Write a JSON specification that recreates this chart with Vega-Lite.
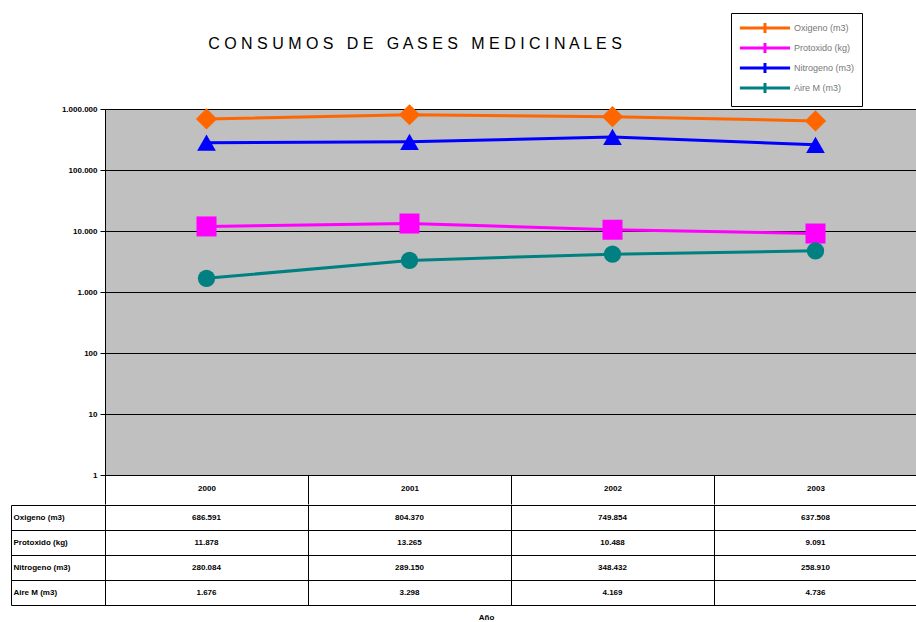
{
  "$schema": "https://vega.github.io/schema/vega-lite/v6.json",
  "padding": {"left": 10, "top": 12, "right": 0, "bottom": 0},
  "spacing": -6,
  "config": {
    "locale": {"number": {"decimal": ",", "thousands": ".", "grouping": [3], "currency": ["", " €"]}},
    "font": "Liberation Sans",
    "view": {"stroke": "black", "strokeWidth": 1}
  },
  "resolve": {"scale": {"x": "independent", "y": "independent", "color": "independent"}},
  "datasets": {
    "series": [
      {"year": "2000", "serie": "Oxigeno (m3)", "value": 686591},
      {"year": "2001", "serie": "Oxigeno (m3)", "value": 804370},
      {"year": "2002", "serie": "Oxigeno (m3)", "value": 749854},
      {"year": "2003", "serie": "Oxigeno (m3)", "value": 637508},
      {"year": "2000", "serie": "Protoxido (kg)", "value": 11878},
      {"year": "2001", "serie": "Protoxido (kg)", "value": 13265},
      {"year": "2002", "serie": "Protoxido (kg)", "value": 10488},
      {"year": "2003", "serie": "Protoxido (kg)", "value": 9091},
      {"year": "2000", "serie": "Nitrogeno (m3)", "value": 280084},
      {"year": "2001", "serie": "Nitrogeno (m3)", "value": 289150},
      {"year": "2002", "serie": "Nitrogeno (m3)", "value": 348432},
      {"year": "2003", "serie": "Nitrogeno (m3)", "value": 258910},
      {"year": "2000", "serie": "Aire M (m3)", "value": 1676},
      {"year": "2001", "serie": "Aire M (m3)", "value": 3298},
      {"year": "2002", "serie": "Aire M (m3)", "value": 4169},
      {"year": "2003", "serie": "Aire M (m3)", "value": 4736}
    ]
  },
  "vconcat": [
    {
      "width": 812,
      "height": 366,
      "view": {"fill": "#c0c0c0", "stroke": "black"},
      "title": {
        "text": "C O N S U M O S\u00a0\u00a0\u00a0D E\u00a0\u00a0\u00a0G A S E S\u00a0\u00a0\u00a0M E D I C I N A L E S",
        "frame": "group",
        "anchor": "middle",
        "dx": -96,
        "offset": -39,
        "fontSize": 16,
        "fontWeight": "normal",
        "font": "Liberation Sans",
        "color": "black"
      },
      "data": {"name": "series"},
      "encoding": {
        "x": {
          "field": "year", "type": "ordinal", "bandPosition": 0.5,
          "scale": {"type": "band", "paddingInner": 0, "paddingOuter": 0},
          "axis": {
            "title": null, "orient": "bottom", "tickBand": "extent", "tickSize": 29,
            "tickColor": "black", "domainColor": "black", "labelAngle": 0,
            "labelPadding": -16, "labelBaseline": "middle", "labelFontSize": 8,
            "labelFontWeight": "bold", "labelColor": "black", "grid": false,
            "minExtent": 29, "maxExtent": 29
          }
        },
        "y": {
          "field": "value", "type": "quantitative",
          "scale": {"type": "log", "domain": [1, 1000000], "nice": false},
          "axis": {
            "title": null, "values": [1, 10, 100, 1000, 10000, 100000, 1000000],
            "format": ",", "grid": true, "gridColor": "black", "gridOpacity": 1,
            "domainColor": "black", "tickColor": "black", "tickSize": 5,
            "labelFontSize": 8, "labelFontWeight": "bold", "labelColor": "black",
            "labelPadding": 3
          }
        },
        "color": {
          "field": "serie", "type": "nominal",
          "scale": {
            "domain": ["Oxigeno (m3)", "Protoxido (kg)", "Nitrogeno (m3)", "Aire M (m3)"],
            "range": ["#ff6600", "#ff00ff", "#0000ff", "#008080"]
          },
          "legend": {
            "orient": "none", "legendX": 626, "legendY": -96, "title": null,
            "symbolType": "M-1,0H7.2M3.1,-0.8V0.8", "symbolSize": 150, "symbolStrokeWidth": 3,
            "labelFontSize": 9, "labelColor": "#777", "labelOffset": 40,
            "strokeColor": "black", "fillColor": "white", "padding": 7,
            "rowPadding": -2
          }
        }
      },
      "layer": [
        {"mark": {"type": "line", "strokeWidth": 3}},
        {
          "mark": {"type": "point", "filled": true, "opacity": 1},
          "encoding": {
            "shape": {
              "field": "serie", "type": "nominal",
              "scale": {
                "domain": ["Oxigeno (m3)", "Protoxido (kg)", "Nitrogeno (m3)", "Aire M (m3)"],
                "range": ["diamond", "square", "triangle-up", "circle"]
              },
              "legend": null
            },
            "size": {
              "field": "serie", "type": "nominal",
              "scale": {
                "domain": ["Oxigeno (m3)", "Protoxido (kg)", "Nitrogeno (m3)", "Aire M (m3)"],
                "range": [450, 300, 380, 290]
              },
              "legend": null
            }
          }
        }
      ]
    },
    {
      "width": 812,
      "height": 100,
      "data": {"name": "series"},
      "layer": [
        {
          "mark": {"type": "text", "fontSize": 8, "fontWeight": "bold", "color": "black"},
          "encoding": {
            "x": {
              "field": "year", "type": "ordinal",
              "scale": {"type": "band", "paddingInner": 0, "paddingOuter": 0},
              "axis": {
                "orient": "bottom", "tickBand": "extent", "grid": true, "gridColor": "black",
                "gridOpacity": 1, "ticks": false, "labels": false, "domainColor": "black",
                "title": "Año", "titleFontSize": 8, "titleFontWeight": "bold",
                "titleX": 381, "titleY": 12, "titleBaseline": "middle", "titleAlign": "center"
              }
            },
            "y": {
              "field": "serie", "type": "nominal",
              "sort": ["Oxigeno (m3)", "Protoxido (kg)", "Nitrogeno (m3)", "Aire M (m3)"],
              "scale": {"type": "band", "paddingInner": 0, "paddingOuter": 0},
              "axis": {
                "title": null, "orient": "left", "tickBand": "extent", "tickSize": 94,
                "tickColor": "black", "labelAlign": "left", "labelPadding": -2,
                "labelBaseline": "middle", "labelFontSize": 8, "labelFontWeight": "bold",
                "labelColor": "black", "domainColor": "black", "grid": true,
                "gridColor": "black", "gridOpacity": 1
              }
            },
            "text": {"field": "value", "type": "quantitative", "format": ","}
          }
        },
        {
          "mark": {"type": "text", "opacity": 0},
          "encoding": {
            "y": {
              "field": "serie", "type": "nominal",
              "sort": ["Oxigeno (m3)", "Protoxido (kg)", "Nitrogeno (m3)", "Aire M (m3)"],
              "axis": {
                "title": null, "orient": "left", "offset": 94, "labels": false,
                "ticks": false, "grid": false, "domain": true, "domainColor": "black"
              }
            },
            "text": {"value": ""}
          }
        }
      ],
      "resolve": {"axis": {"y": "independent"}}
    }
  ]
}
